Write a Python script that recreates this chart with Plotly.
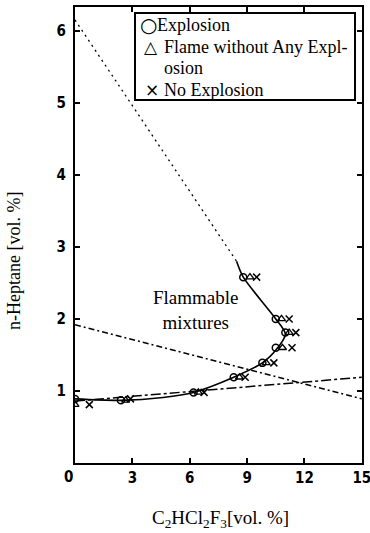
import plotly.graph_objects as go

# C2HCl2F3 [vol.%] vs n-heptane [vol.%] : ignition test results
exp_x = [0.0, 2.4, 6.2, 8.3, 9.8, 10.5, 11.0, 10.5, 8.8]
exp_y = [0.89, 0.87, 0.98, 1.19, 1.39, 1.60, 1.81, 2.00, 2.58]

flame_x = [0.0, 2.65, 6.45, 8.6, 10.0, 10.85, 11.2, 10.8, 9.15]
flame_y = [0.81, 0.87, 0.98, 1.19, 1.39, 1.60, 1.81, 2.00, 2.58]

noexp_x = [0.75, 2.9, 6.75, 8.9, 10.4, 11.35, 11.55, 11.2, 9.5]
noexp_y = [0.81, 0.89, 0.98, 1.19, 1.39, 1.60, 1.81, 2.00, 2.58]

# flammability boundary
bound_x = [8.45, 8.8, 10.5, 11.0, 10.6, 9.8, 8.3, 6.2, 4.6, 2.4, 0.0]
bound_y = [2.80, 2.58, 2.00, 1.79, 1.60, 1.39, 1.19, 0.98, 0.91, 0.87, 0.89]

# auxiliary straight lines
dot_x, dot_y = [0.0, 8.45], [6.15, 2.80]
desc_x, desc_y = [0.0, 15.0], [1.92, 0.89]
asc_x, asc_y = [0.0, 15.0], [0.86, 1.19]

x_ticks = [3, 6, 9, 12, 15]
y_ticks = [1, 2, 3, 4, 5, 6]

legend_entries = [("○", "Explosion"), ("△", "Flame without Any Expl-"),
                  ("", "osion"), ("×", "No Explosion")]

SERIF = "Liberation Serif"
TICKF = "Liberation Sans Narrow, DejaVu Sans Condensed, Arial Narrow, sans-serif"

fig = go.Figure()
fig.add_trace(go.Scatter(x=dot_x, y=dot_y, mode="lines",
                         line=dict(color="black", width=1.3, dash="2px,4px")))
fig.add_trace(go.Scatter(x=desc_x, y=desc_y, mode="lines",
                         line=dict(color="black", width=1.5, dash="6px,3px,2px,3px")))
fig.add_trace(go.Scatter(x=asc_x, y=asc_y, mode="lines",
                         line=dict(color="black", width=1.5, dash="10px,3px,3px,3px")))
fig.add_trace(go.Scatter(x=bound_x, y=bound_y, mode="lines",
                         line=dict(color="black", width=1.6, shape="spline", smoothing=0.8)))
fig.add_trace(go.Scatter(x=exp_x, y=exp_y, mode="markers", name="Explosion",
                         marker=dict(symbol="circle-open", size=7, color="black",
                                     line=dict(width=1.5))))
fig.add_trace(go.Scatter(x=flame_x, y=flame_y, mode="markers", name="Flame",
                         marker=dict(symbol="triangle-up-open", size=7, color="black",
                                     line=dict(width=1.3))))
fig.add_trace(go.Scatter(x=noexp_x, y=noexp_y, mode="markers", name="No Explosion",
                         marker=dict(symbol="x-thin", size=7, color="black",
                                     line=dict(width=1.5, color="black"))))

L, R, T, B = 75, 8, 7, 70
W, H = 370, 533
pw, ph = W - L - R, H - T - B


def px(xp):
    return (xp - L) / pw


def py(yp):
    return (H - B - yp) / ph


annotations = [
    dict(x=6.3, y=2.13, xref="x", yref="y", text="Flammable<br>mixtures",
         showarrow=False, font=dict(family=SERIF, size=19, color="black")),
    dict(x=px(68), y=py(477), xref="paper", yref="paper", text="0", showarrow=False,
         xanchor="center", yanchor="middle",
         font=dict(family=TICKF, size=15, color="black", weight="bold")),
    dict(x=px(220), y=py(519), xref="paper", yref="paper",
         text="C<sub>2</sub>HCl<sub>2</sub>F<sub>3</sub>[vol. %]", showarrow=False,
         xanchor="center", yanchor="middle",
         font=dict(family=SERIF, size=19, color="black")),
    dict(x=px(14), y=py(261), xref="paper", yref="paper", text="n-Heptane [vol. %]",
         textangle=-90, showarrow=False, xanchor="center", yanchor="middle",
         font=dict(family=SERIF, size=18, color="black")),
]

row_y = [25, 47, 68, 90]
sym_x = [148, 151, 151, 152]
txt_x = [155, 162, 162, 162]
for (sym, label), ry, sx, tx in zip(legend_entries, row_y, sym_x, txt_x):
    if sym:
        annotations.append(dict(x=px(sx), y=py(ry), xref="paper", yref="paper", text=sym,
                                showarrow=False, xanchor="center", yanchor="middle",
                                font=dict(family="DejaVu Sans", size=20 if sym == "○" else 17,
                                          color="black")))
    annotations.append(dict(x=px(tx), y=py(ry), xref="paper", yref="paper", text=label,
                            showarrow=False, xanchor="left", yanchor="middle",
                            font=dict(family=SERIF, size=18, color="black")))

fig.update_layout(
    width=W, height=H,
    margin=dict(l=L, r=R, t=T, b=B, autoexpand=False),
    paper_bgcolor="white", plot_bgcolor="white",
    showlegend=False,
    annotations=annotations,
    shapes=[dict(type="rect", xref="paper", yref="paper",
                 x0=px(135), x1=px(355), y0=py(100), y1=py(13),
                 line=dict(color="black", width=2), fillcolor="white", layer="below")],
    xaxis=dict(range=[0, 15.01], tickvals=x_ticks, ticktext=[str(v) for v in x_ticks],
               automargin=False,
               showgrid=False, zeroline=False, showline=True, linecolor="black", linewidth=2,
               mirror="ticks", ticks="inside", ticklen=5, tickwidth=1.5, tickcolor="black",
               ticklabeloverflow="allow",
               tickfont=dict(family=TICKF, size=15, color="black", weight="bold")),
    yaxis=dict(range=[0, 6.33], tickvals=y_ticks, ticktext=[str(v) for v in y_ticks],
               automargin=False,
               showgrid=False, zeroline=False, showline=True, linecolor="black", linewidth=2,
               mirror="ticks", ticks="inside", ticklen=5, tickwidth=1.5, tickcolor="black",
               ticklabelstandoff=4,
               tickfont=dict(family=TICKF, size=15, color="black", weight="bold")),
)

fig.write_html("out.html")
